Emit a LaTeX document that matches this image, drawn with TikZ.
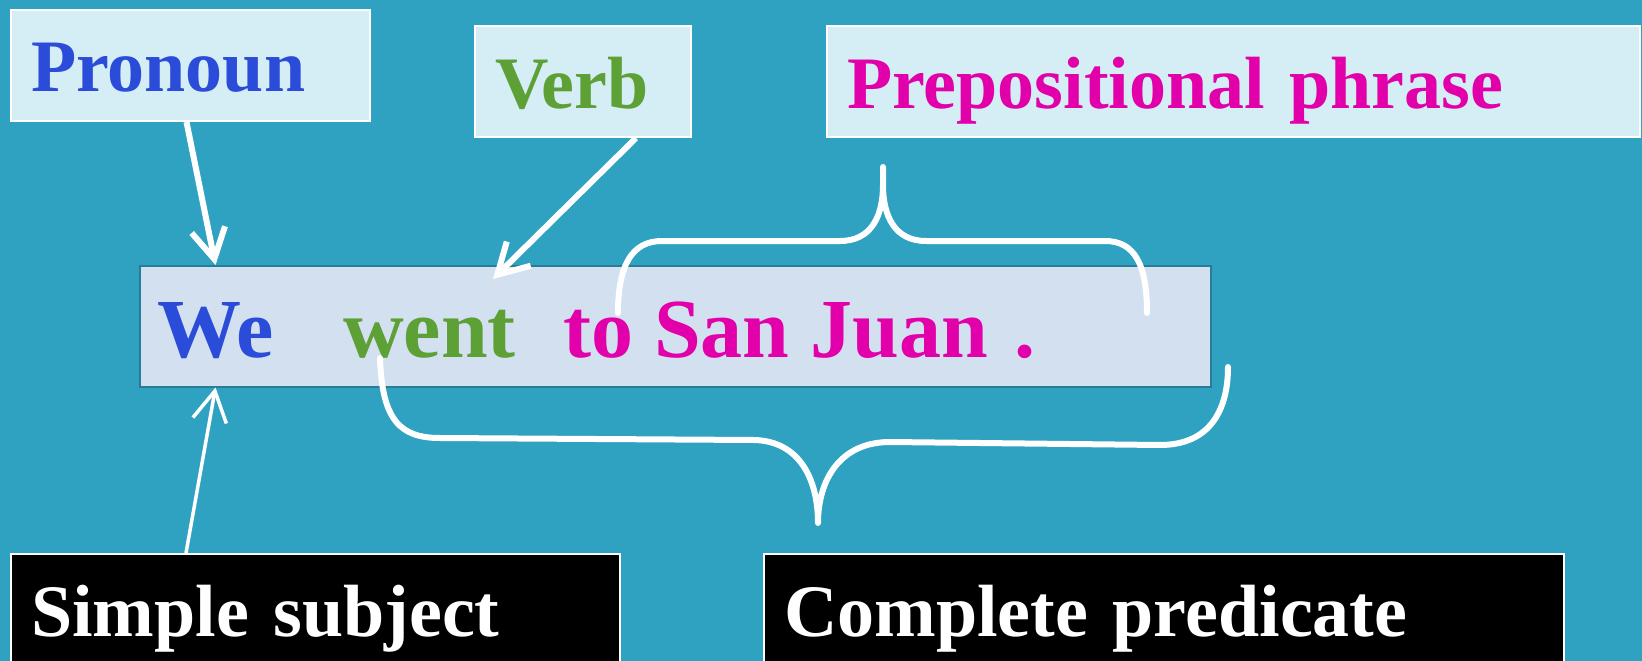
\documentclass[tikz,border=0pt]{standalone}
\usepackage{fontspec}
\setmainfont{Liberation Serif}
\usetikzlibrary{arrows.meta,calc,positioning}

\definecolor{slidebg}{HTML}{2EA2C0}
\definecolor{tagfill}{HTML}{D5EEF5}
\definecolor{sentfill}{HTML}{D3E0F0}
\definecolor{sentline}{HTML}{2A7C95}
\definecolor{pronblue}{HTML}{2B4CD9}
\definecolor{verbgreen}{HTML}{5CA036}
\definecolor{prepmag}{HTML}{E100A9}

\begin{document}
\begin{tikzpicture}[x=1pt, y=-1pt,
    tag/.style={draw=white, line width=2pt, fill=tagfill, anchor=north west,
        inner ysep=0pt, inner xsep=20pt, align=left, text height=82pt, text depth=29pt,
        font=\fontsize{74}{80}\selectfont\bfseries},
    part/.style={tag, fill=black, text=white, text depth=40pt},
    word/.style={anchor=base west, inner sep=0pt, font=\fontsize{84}{90}\selectfont\bfseries},
    pointer/.style={white, line width=6pt, -{Straight Barb[length=30pt, width=34pt]}},
    brace/.style={white, line width=6pt, line cap=round, line join=round}]
    \useasboundingbox (0,0) rectangle (1642,661);
    \clip (0,0) rectangle (1642,661);
    \fill [slidebg] (0,0) rectangle (1642,661);

    \node [tag, text width=319pt, text=pronblue]  (pronoun) at (10,9)   {Pronoun};
    \node [tag, text width=176pt, text=verbgreen] (verb)    at (474,25) {Verb};
    \node [tag, text width=773pt, text=prepmag]   (prep)    at (826,25) {Prepositional phrase};

    \node [draw=sentline, line width=1.5pt, fill=sentfill, anchor=north west,
        minimum width=1071pt, minimum height=121pt, inner sep=0pt] (sentence) at (139,265) {};
    \node [word, text=pronblue]  (we)    at (157,357) {We};
    \node [word, text=verbgreen] (went)  at (343,357) {went};
    \node [word, text=prepmag]   (place) at (563,357) {to San Juan\hspace{6pt} .};

    \node [part, text width=569pt] (subject)   at (10,553)  {Simple subject};
    \node [part, text width=760pt] (predicate) at (763,553) {Complete predicate};

    \draw [pointer] ([xshift=-4pt]pronoun.south) to (we |- sentence.north);
    \draw [pointer] ([xshift=-56pt]verb.south east) to ($(went.east |- sentence.north)+(-23,14)$);
    \draw [pointer, line width=3.5pt] ([xshift=176pt]subject.north west) to (we |- sentence.south);

    \draw [brace] (618,313) .. controls (618,265) and (632,241) .. (662,241) -- (840,241)
        .. controls (872,241) and (883,215) .. (883,185) -- (883,167) -- (883,185)
        .. controls (883,215) and (894,241) .. (926,241) -- (1105,241)
        .. controls (1135,241) and (1147,265) .. (1147,313);
    \draw [brace] (380,358) .. controls (382,420) and (400,438) .. (440,438) -- (754,440)
        .. controls (800,441) and (818,480) .. (818,523)
        .. controls (818,480) and (840,442) .. (890,442) -- (1160,445)
        .. controls (1210,445) and (1228,410) .. (1228,367);
\end{tikzpicture}
\end{document}
